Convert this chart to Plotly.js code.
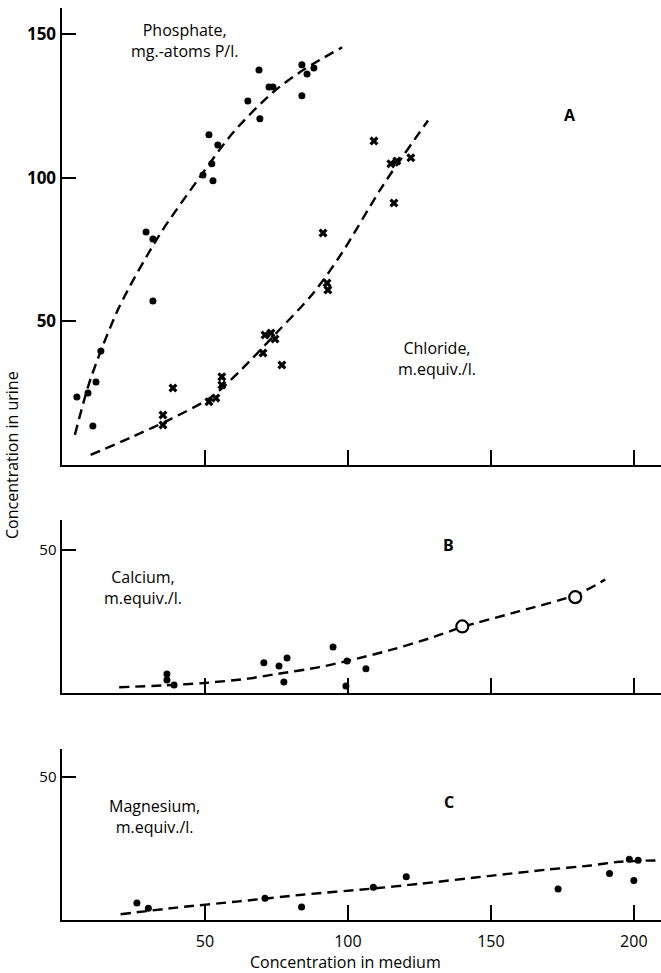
<!DOCTYPE html>
<html>
<head>
<meta charset="utf-8">
<script src="https://cdn.plot.ly/plotly-3.0.1.min.js"></script>
<style>html,body{margin:0;padding:0;background:#fff;}#chart{width:661px;height:973px;}</style>
</head>
<body>
<div id="chart"></div>
<script>
// ---- Panel A: phosphate (dots) ----
const phosX = [5.2, 9.1, 10.8, 11.9, 13.6, 29.4, 31.8, 31.8, 49.3, 52.4, 52.8, 51.4, 54.5, 65.0, 69.2, 68.9, 72.4, 73.8, 83.9, 85.7, 88.1, 83.9];
const phosY = [23.7, 25.1, 13.6, 28.9, 39.7, 81.2, 78.7, 57.1, 101.0, 104.9, 99.0, 115.0, 111.5, 126.8, 120.6, 137.6, 131.7, 131.7, 139.4, 136.2, 138.3, 128.6];
const phosCurveX = [4.5, 10, 20, 34, 48, 60, 74, 85, 98];
const phosCurveY = [10.5, 30, 55, 80, 100, 116, 130, 138, 145.5];

// ---- Panel A: chloride (crosses) ----
const chlX = [35.3, 35.3, 38.8, 51.4, 53.8, 55.9, 55.9, 70.3, 71.0, 73.1, 74.5, 76.9, 91.3, 92.7, 93.0, 109.1, 115.0, 117.1, 122.0, 116.1];
const chlY = [17.4, 13.9, 26.8, 22.0, 23.3, 30.7, 27.9, 39.0, 45.3, 46.0, 43.9, 34.8, 80.8, 63.4, 61.0, 112.9, 104.9, 105.9, 107.0, 91.3];
const chlCurveX = [10, 25, 38, 52, 62, 75, 88, 98, 112, 128];
const chlCurveY = [3.5, 10, 16, 23.5, 32.5, 46, 60, 74, 97, 120];

// ---- Panel B: calcium ----
const caX = [36.7, 36.7, 39.2, 70.6, 75.9, 78.7, 77.6, 94.8, 99.7, 99.3, 106.3];
const caY = [6.6, 4.5, 2.8, 10.5, 9.4, 12.2, 3.8, 16.0, 11.1, 2.4, 8.4];
const caOpenX = [140, 179.5];
const caOpenY = [23.2, 33.4];
const caCurveX = [20, 35, 50, 65, 75, 90, 100, 115, 130, 140, 160, 180, 190];
const caCurveY = [2, 2.6, 3.5, 5, 6.6, 9, 11.2, 15, 19.5, 23, 28.5, 34.3, 39.5];

// ---- Panel C: magnesium ----
const mgX = [26.2, 30.2, 71.0, 83.8, 108.9, 120.4, 173.5, 191.5, 198.4, 201.5, 200.0];
const mgY = [5.9, 4.1, 7.6, 4.5, 11.4, 15.1, 10.8, 16.2, 21.2, 20.8, 13.8];
const mgCurveX = [20.5, 40, 62, 84, 108, 125, 149, 170, 185, 195, 210];
const mgCurveY = [2, 4.3, 6.5, 8.8, 10.9, 12.6, 15.3, 17.6, 19, 20.3, 20.8];

const xTicks = [50, 100, 150, 200];
const xTickText = ['50', '100', '150', '200'];

const FONT = 'Open Sans, Lato, sans-serif';
const dashLine = {color: '#000', width: 2.4, dash: '10px,6px'};
const dot = (s) => ({color: '#000', size: s, symbol: 'circle'});

const traces = [
  {x: phosCurveX, y: phosCurveY, mode: 'lines', line: Object.assign({shape: 'spline', smoothing: 0.8}, dashLine), xaxis: 'x', yaxis: 'y'},
  {x: chlCurveX, y: chlCurveY, mode: 'lines', line: Object.assign({shape: 'spline', smoothing: 0.8}, dashLine), xaxis: 'x', yaxis: 'y'},
  {x: phosX, y: phosY, mode: 'markers', marker: dot(7), xaxis: 'x', yaxis: 'y'},
  {x: chlX, y: chlY, mode: 'markers', marker: {color: '#000', size: 8, symbol: 'x'}, xaxis: 'x', yaxis: 'y'},
  {x: caCurveX, y: caCurveY, mode: 'lines', line: Object.assign({shape: 'spline', smoothing: 0.8}, dashLine), xaxis: 'x2', yaxis: 'y2'},
  {x: caX, y: caY, mode: 'markers', marker: dot(7), xaxis: 'x2', yaxis: 'y2'},
  {x: caOpenX, y: caOpenY, mode: 'markers', marker: {color: '#fff', size: 12, symbol: 'circle', line: {color: '#000', width: 2.2}}, xaxis: 'x2', yaxis: 'y2'},
  {x: mgCurveX, y: mgCurveY, mode: 'lines', line: Object.assign({shape: 'spline', smoothing: 0.8}, dashLine), xaxis: 'x3', yaxis: 'y3'},
  {x: mgX, y: mgY, mode: 'markers', marker: dot(7), xaxis: 'x3', yaxis: 'y3'}
];

function xax(anchor, labels) {
  return {
    anchor: anchor, domain: [0, 1], range: [0, 209.5],
    showline: true, linecolor: '#000', linewidth: 2.5,
    ticks: 'inside', tickvals: xTicks, ticktext: xTickText, ticklen: 15, tickwidth: 2, tickcolor: '#000',
    showticklabels: labels, ticklabelstandoff: 5,
    tickfont: {family: FONT, size: 16, color: '#000'},
    showgrid: false, zeroline: false
  };
}
function yax(anchor, dom, top, vals, fsize, weight) {
  return {
    anchor: anchor, domain: dom, range: [0, top],
    showline: true, linecolor: '#000', linewidth: 2.5,
    ticks: 'inside', tickvals: vals, ticklen: 14, tickwidth: 2, tickcolor: '#000',
    tickfont: {family: FONT, size: fsize, color: '#000', weight: weight},
    showgrid: false, zeroline: false
  };
}

const ann = (xref, yref, x, y, text, size, weight) => ({
  xref: xref, yref: yref, x: x, y: y, text: text, showarrow: false,
  xanchor: 'center', yanchor: 'middle',
  font: {family: FONT, size: size, color: '#000', weight: weight || 'normal'}, align: 'center'
});

const layout = {
  width: 661, height: 973, autosize: false,
  margin: {l: 62, r: 0, t: 0, b: 0},
  paper_bgcolor: '#fff', plot_bgcolor: '#fff',
  showlegend: false,
  xaxis: xax('y', false),
  yaxis: yax('x', [0.5221, 0.9918], 159.2, [50, 100, 150], 17, 'bold'),
  xaxis2: xax('y2', false),
  yaxis2: yax('x2', [0.2878, 0.4656], 60.3, [50], 15, 'normal'),
  xaxis3: xax('y3', true),
  yaxis3: yax('x3', [0.0545, 0.2302], 59.6, [50], 15, 'normal'),
  annotations: [
    ann('x', 'y', 43, 148, 'Phosphate,<br>mg.-atoms P/l.', 16),
    ann('x', 'y', 177.5, 122, 'A', 16, 'bold'),
    ann('x', 'y', 131, 37, 'Chloride,<br>m.equiv./l.', 16),
    ann('x2', 'y2', 135.3, 51.6, 'B', 16, 'bold'),
    ann('x2', 'y2', 28.3, 36.6, 'Calcium,<br>m.equiv./l.', 16),
    ann('x3', 'y3', 135.3, 41, 'C', 16, 'bold'),
    ann('x3', 'y3', 32.5, 36.2, 'Magnesium,<br>m.equiv./l.', 16),
    {xref: 'paper', yref: 'paper', x: (12 - 62) / 599, y: 1 - 455 / 973, text: 'Concentration in urine', textangle: -90, showarrow: false,
     xanchor: 'center', yanchor: 'middle',
     font: {family: FONT, size: 16, color: '#000'}},
    {xref: 'paper', yref: 'paper', x: (345 - 62) / 599, y: 1 - 962 / 973, text: 'Concentration in medium', showarrow: false,
     xanchor: 'center', yanchor: 'middle',
     font: {family: FONT, size: 16, color: '#000'}}
  ]
};

Plotly.newPlot('chart', traces, layout, {staticPlot: true, displayModeBar: false});
</script>
</body>
</html>
